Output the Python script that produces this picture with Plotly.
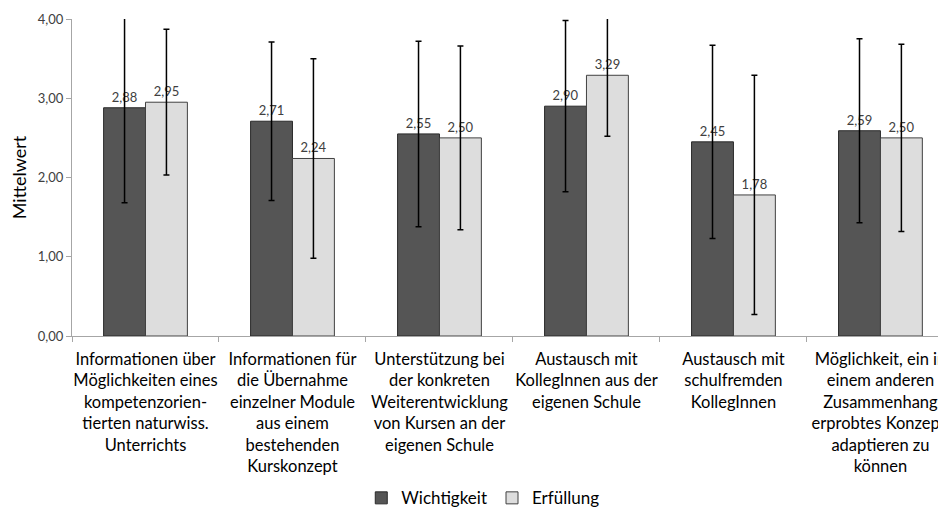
import plotly.graph_objects as go

categories = [
    "Informationen über<br>Möglichkeiten eines<br>kompetenzorien-<br>tierten naturwiss.<br>Unterrichts",
    "Informationen für<br>die Übernahme<br>einzelner Module<br>aus einem<br>bestehenden<br>Kurskonzept",
    "Unterstützung bei<br>der konkreten<br>Weiterentwicklung<br>von Kursen an der<br>eigenen Schule",
    "Austausch mit<br>KollegInnen aus der<br>eigenen Schule",
    "Austausch mit<br>schulfremden<br>KollegInnen",
    "Möglichkeit, ein in<br>einem anderen<br>Zusammenhang<br>erprobtes Konzept,<br>adaptieren zu<br>können",
]
wichtigkeit = [2.88, 2.71, 2.55, 2.90, 2.45, 2.59]
wichtigkeit_sd = [1.20, 1.00, 1.17, 1.08, 1.22, 1.16]
erfuellung = [2.95, 2.24, 2.50, 3.29, 1.78, 2.50]
erfuellung_sd = [0.92, 1.26, 1.16, 0.77, 1.51, 1.18]
y_ticks = [0, 1, 2, 3, 4]

FONT = "Lato"

fig = go.Figure()
fig.add_trace(go.Bar(
    name="Wichtigkeit", x=categories, y=wichtigkeit,
    marker=dict(color="#555555", line=dict(color="#2a2a2a", width=1)),
    error_y=dict(type="data", array=wichtigkeit_sd, color="#000000", thickness=1.5, width=3),
    texttemplate="%{y:.2f}", textposition="outside",
    textfont=dict(family=FONT, size=13, color="#404040"),
))
fig.add_trace(go.Bar(
    name="Erfüllung", x=categories, y=erfuellung,
    marker=dict(color="#dddddd", line=dict(color="#404040", width=1)),
    error_y=dict(type="data", array=erfuellung_sd, color="#000000", thickness=1.5, width=3),
    texttemplate="%{y:.2f}", textposition="outside",
    textfont=dict(family=FONT, size=13, color="#404040"),
))

# page body has an 8px margin, so the figure is sized to the visible area
fig.update_layout(
    width=938, height=499,
    margin=dict(l=64, r=0, t=11, b=171, autoexpand=False),
    paper_bgcolor="white", plot_bgcolor="white",
    separators=",.",
    barmode="group", bargap=0.43, bargroupgap=0,
    font=dict(family=FONT, size=14, color="#000000"),
    legend=dict(orientation="h", x=0.47, xanchor="center", y=-0.512, yanchor="middle",
                font=dict(family=FONT, size=17, color="#000000"), traceorder="normal",
                itemwidth=30),
)
fig.update_xaxes(
    range=[-0.5, 5.446], showline=True, linecolor="#a6a6a6", linewidth=1,
    ticks="outside", tickson="boundaries", ticklen=5, tickcolor="#a6a6a6",
    tickfont=dict(family=FONT, size=16.5, color="#000000"), tickangle=0,
    showgrid=False, automargin=False, ticklabelstandoff=8,
)
fig.update_yaxes(
    range=[0, 4], tickvals=y_ticks, tickformat=".2f",
    showline=True, linecolor="#a6a6a6", linewidth=1,
    ticks="outside", ticklen=5, tickcolor="#a6a6a6",
    tickfont=dict(family=FONT, size=13, color="#404040"),
    showgrid=False, zeroline=False, automargin=False,
    title=dict(text="Mittelwert", font=dict(family=FONT, size=18, color="#000000"), standoff=10),
)

fig.write_html("out.html")
